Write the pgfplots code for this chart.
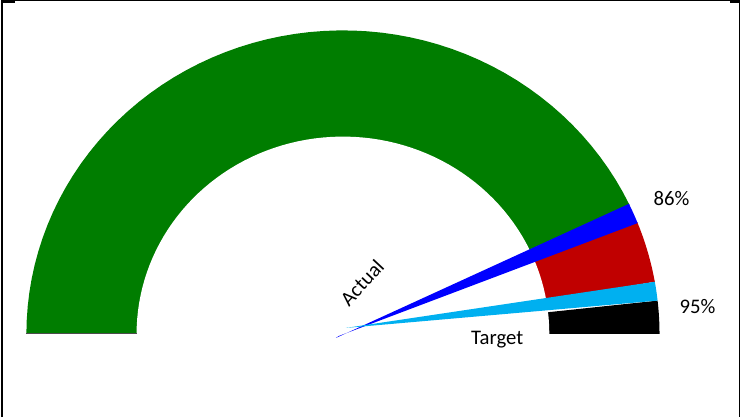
\documentclass[border=0pt]{standalone}
\usepackage{pgfplots}
\pgfplotsset{compat=1.18}
\usepackage{fontspec}
\setmainfont{Carlito}
\definecolor{cgreen}{RGB}{0,125,0}
\definecolor{cblue}{RGB}{0,0,255}
\definecolor{cred}{RGB}{192,0,0}
\definecolor{clblue}{RGB}{0,176,240}
\begin{document}
\begin{tikzpicture}
\begin{axis}[
  scale only axis, width=555.75pt, height=312pt,
  xmin=0, xmax=741, ymin=0, ymax=416,
  axis lines=none, clip=false,
]
% band segments (percent of gauge): green 0-86, red 88-94.5, black 96.5-100
\addplot[fill=cgreen, draw=none, domain=0:86, samples=60, variable=\p]
  ({344+316*cos(180-1.8*\p)}, {83+303*sin(180-1.8*\p)}) -- (axis cs:344,83) -- cycle;
\addplot[fill=cred, draw=none, domain=88:94.5, samples=10, variable=\p]
  ({344+316*cos(180-1.8*\p)}, {83+303*sin(180-1.8*\p)}) -- (axis cs:344,83) -- cycle;
\addplot[fill=black, draw=none, domain=96.5:100, samples=10, variable=\p]
  ({344+316*cos(180-1.8*\p)}, {83+303*sin(180-1.8*\p)}) -- (axis cs:344,83) -- cycle;
% hole
\addplot[fill=white, draw=none, domain=0:100, samples=80, variable=\p]
  ({344+206*cos(180-1.8*\p)}, {83+197*sin(180-1.8*\p)}) -- (axis cs:550,80) -- (axis cs:138,80) -- cycle;
\addplot[draw=black!70, line width=0.8pt] coordinates {(28,83) (138,83)};
% pointers: actual 86-88, target 94.5-96.5
\addplot[fill=cblue, draw=none, domain=85.9:88.1, samples=5, variable=\p]
  ({344+316*cos(180-1.8*\p)}, {83+303*sin(180-1.8*\p)}) -- (axis cs:340,81) -- (axis cs:337,79) -- cycle;
\addplot[fill=clblue, draw=none, domain=94.5:96.5, samples=5, variable=\p]
  ({344+316*cos(180-1.8*\p)}, {83+303*sin(180-1.8*\p)}) -- (axis cs:347,89) -- cycle;
% labels
\node[rotate=47, font=\fontsize{15.5}{18}\selectfont] at (axis cs:363,134) {Actual};
\node[font=\fontsize{15.5}{18}\selectfont] at (axis cs:498,77) {Target};
\node[font=\fontsize{15.5}{18}\selectfont] at (axis cs:672,218) {86\%};
\node[font=\fontsize{15.5}{18}\selectfont] at (axis cs:698,110) {95\%};
% frame
\draw[black, line width=1.5pt] (axis cs:4,0) -- (axis cs:4,415);
\draw[black, line width=0.75pt] (axis cs:3,415.5) -- (axis cs:740,415.5);
\draw[black, line width=2pt] (axis cs:3,415) -- (axis cs:17,415);
\draw[black, line width=2pt] (axis cs:730,415) -- (axis cs:740,415);
\draw[black, line width=0.75pt] (axis cs:740,415.5) -- (axis cs:740,0);
\end{axis}
\end{tikzpicture}
\end{document}
